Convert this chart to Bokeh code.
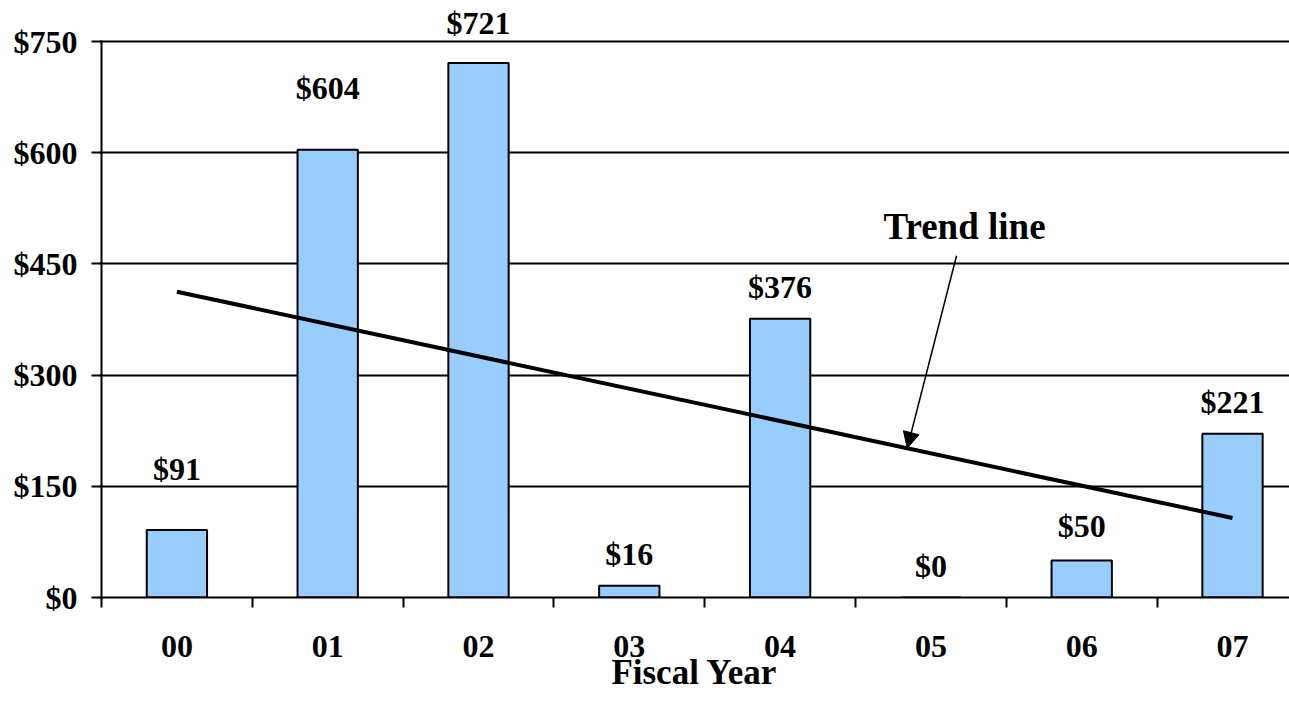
import numpy as np
from bokeh.plotting import figure
from bokeh.models import ColumnDataSource, FixedTicker, Arrow, NormalHead, Label, Range1d
from bokeh.core.properties import value
from bokeh.embed import file_html
from bokeh.resources import INLINE

# ---- data ----
years = ["00", "01", "02", "03", "04", "05", "06", "07"]
amounts = [91, 604, 721, 16, 376, 0, 50, 221]
value_labels = ["$91", "$604", "$721", "$16", "$376", "$0", "$50", "$221"]
y_ticks = [0, 150, 300, 450, 600, 750]
y_tick_labels = ["$0", "$150", "$300", "$450", "$600", "$750"]

# ---- styling ----
label_offsets = [61, 62, 40, 32, 32, 32, 34, 32]   # px above bar top
FONT = "Liberation Serif"
BAR_COLOR = "#99CCFF"
TXT = "32px"

n = len(years)
centers = [i + 0.5 for i in range(n)]

# linear trend fitted to the data
slope, intercept = np.polyfit(np.arange(n), np.array(amounts, dtype=float), 1)
trend_x = [centers[0], centers[-1]]
trend_y = [intercept, intercept + slope * (n - 1)]

W, H = 1289, 715
left_border = 99
bottom_border = 118
px_per_x = 150.8
px_per_y = 556.0 / 750.0
frame_w = W - left_border
frame_h = H - bottom_border
x_start = -2.0 / px_per_x
x_end = x_start + frame_w / px_per_x
y_end = frame_h / px_per_y

p = figure(width=W, height=H, output_backend="svg", toolbar_location=None,
           x_range=Range1d(x_start, x_end), y_range=Range1d(0, y_end),
           min_border_left=left_border, min_border_right=0, min_border_top=0,
           min_border_bottom=bottom_border)
p.outline_line_color = None
p.background_fill_color = "white"

# grid
p.xgrid.grid_line_color = None
p.ygrid.ticker = FixedTicker(ticks=y_ticks[1:])
p.ygrid.grid_line_color = "black"
p.ygrid.grid_line_width = 2

# y axis
ya = p.yaxis[0]
ya.ticker = FixedTicker(ticks=y_ticks)
ya.major_label_overrides = {t: l for t, l in zip(y_ticks, y_tick_labels)}
ya.axis_line_color = None
ya.major_tick_line_color = "black"
ya.major_tick_line_width = 2
ya.major_tick_out = 8
ya.major_tick_in = 3
ya.minor_tick_line_color = None
ya.major_label_standoff = 14
ya.major_label_text_font = FONT
ya.major_label_text_font_style = "bold"
ya.major_label_text_font_size = TXT
ya.major_label_text_color = "black"

# x axis
xa = p.xaxis[0]
xa.ticker = FixedTicker(ticks=centers, minor_ticks=list(range(n)))
xa.major_label_overrides = {c: y for c, y in zip(centers, years)}
xa.axis_line_color = "black"
xa.axis_line_width = 2
xa.major_tick_line_color = None
xa.major_tick_out = 0
xa.major_tick_in = 0
xa.minor_tick_line_color = "black"
xa.minor_tick_line_width = 2
xa.minor_tick_out = 10
xa.minor_tick_in = 0
xa.major_label_standoff = 28
xa.major_label_text_font = FONT
xa.major_label_text_font_style = "bold"
xa.major_label_text_font_size = TXT
xa.major_label_text_color = "black"
xa.axis_label = "Fiscal Year"
xa.axis_label_text_font = FONT
xa.axis_label_text_font_style = "bold"
xa.axis_label_text_font_size = "35px"
xa.axis_label_text_color = "black"
xa.axis_label_standoff = -7

src = ColumnDataSource(dict(x=centers, top=amounts, label=value_labels,
                            off=[-o for o in label_offsets]))

# y-axis line from 0 to 750
p.segment(x0=[0], y0=[0], x1=[0], y1=[y_ticks[-1]], line_color="black", line_width=2)

p.vbar(x="x", top="top", bottom=0, width=0.4, source=src,
       fill_color=BAR_COLOR, line_color="black", line_width=2)

p.text(x="x", y="top", text="label", source=src, y_offset="off",
       text_font=value(FONT), text_font_style="bold", text_font_size=TXT,
       text_align="center", text_baseline="middle", text_color="black")

p.line(x=trend_x, y=trend_y, line_color="black", line_width=4)

# annotation
tip_x = 5.343
tip_y = intercept + slope * (tip_x - 0.5)
p.add_layout(Arrow(end=NormalHead(size=16, fill_color="black", line_color="black", line_width=1),
                   x_start=5.67, y_start=461, x_end=tip_x, y_end=tip_y,
                   line_color="black", line_width=1.5))
p.add_layout(Label(x=5.723, y=500, text="Trend line", text_font=FONT, text_font_style="bold",
                   text_font_size="37px", text_align="center", text_baseline="middle",
                   text_color="black"))

open("out.html", "w").write(file_html(p, INLINE))
